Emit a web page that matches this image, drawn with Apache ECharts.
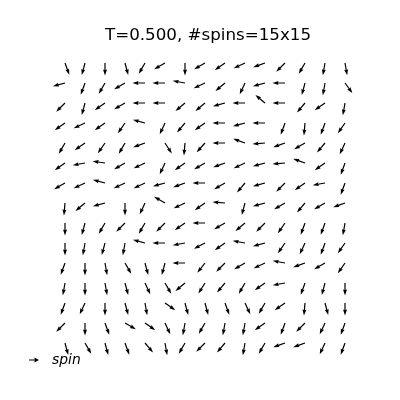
<!DOCTYPE html>
<html>
<head>
<meta charset="utf-8">
<script src="https://cdn.jsdelivr.net/npm/echarts@6/dist/echarts.min.js"></script>
<style>html,body{margin:0;padding:0;background:#fff}#c{width:400px;height:400px}</style>
</head>
<body>
<div id="c"></div>
<script>
const titleText = 'T=0.500, #spins=15x15';
const legendLabel = 'spin';
const columns = [0,1,2,3,4,5,6,7,8,9,10,11,12,13,14];
const rowsTopToBottom = [14,13,12,11,10,9,8,7,6,5,4,3,2,1,0];
// spin angles in degrees (counter-clockwise from +x), rows listed top to bottom
const row1  = [-70,-105,-90,-75,-120,-150,-90,-150,-145,-155,-160,-135,-120,-100,-80];
const row2  = [-165,-110,-120,-150,180,180,170,-155,-140,-115,-165,180,-105,-100,-54];
const row3  = [-135,-105,-145,-150,180,180,-140,-140,-165,180,140,180,-130,-145,-100];
const row4  = [-145,-155,-145,-125,165,-115,-130,-145,180,-165,180,-110,-95,-110,-125];
const row5  = [-120,-145,-125,-120,-160,-57,-95,-132,180,160,-175,-160,-150,-130,-115];
const row6  = [-145,-170,172,-150,-155,-115,-145,-150,-160,-155,-165,-175,160,-145,-110];
const row7  = [-150,-155,165,-155,-155,-165,-160,180,-150,-130,-165,-135,-145,-170,-110];
const row8  = [-95,-140,-165,-90,-115,150,-155,-145,175,-105,-165,-150,-130,-150,-160];
const row9  = [-90,-105,-120,-135,-120,-135,-145,180,-150,-140,-135,-125,-110,-110,-100];
const row10 = [-90,-100,-105,-100,165,180,-170,-152,-145,170,-165,-125,-115,-110,-125];
const row11 = [-110,-90,-80,-60,-75,-105,180,-128,-135,-150,-155,170,-160,-150,-125];
const row12 = [-100,-90,-80,-75,-65,-60,-140,-122,-130,-120,-145,-170,-110,-105,-90];
const row13 = [-110,-115,-90,-75,-80,-35,-75,-75,-70,-65,-120,-145,-95,-75,-90];
const row14 = [-135,-90,-70,-30,-35,-65,-100,-120,-100,-100,-145,-110,-135,-115,-110];
const row15 = [-75,-60,-75,-70,-50,-80,-120,-135,-130,-100,-120,-160,-160,-115,-110];
const angleRows = [row1,row2,row3,row4,row5,row6,row7,row8,row9,row10,row11,row12,row13,row14,row15];

const data = [];
angleRows.forEach((r, ri) => {
  r.forEach((a, ci) => data.push([columns[ci], rowsTopToBottom[ri], a]));
});

const L = 12.5, W = 1.2, HL = 6, HAL = 5.4, HW = 4;
function arrowPoints(x0, y0, deg) {
  const t = deg * Math.PI / 180;
  const ux = Math.cos(t), uy = -Math.sin(t);
  const px = -uy, py = ux;
  const local = [[0,-W/2],[L-HAL,-W/2],[L-HL,-HW/2],[L,0],[L-HL,HW/2],[L-HAL,W/2],[0,W/2]];
  return local.map(([a,b]) => [x0 + a*ux + b*px, y0 + a*uy + b*py]);
}

const chart = echarts.init(document.getElementById('c'), null, {renderer:'canvas'});
chart.setOption({
  animation: false,
  backgroundColor: '#fff',
  title: {
    text: titleText, left: 203, top: 22, textAlign: 'center',
    textStyle: {fontFamily: 'DejaVu Sans', fontSize: 16.7, fontWeight: 'normal', color: '#000'}
  },
  legend: {
    data: [legendLabel], left: 24, top: 348, itemWidth: 12, itemHeight: 5,
    icon: 'path://M0,2.4 L7,2.4 L6.4,0 L12,3 L6.4,6 L7,3.6 L0,3.6 Z',
    textStyle: {fontFamily: 'DejaVu Sans', fontSize: 13.9, fontStyle: 'italic', color: '#000', padding: [0,0,0,7]}
  },
  grid: {left: 65, right: 55, top: 63, bottom: 57},
  xAxis: {type: 'value', min: 0, max: 14, show: false},
  yAxis: {type: 'value', min: 0, max: 14, show: false},
  series: [{
    name: legendLabel,
    type: 'custom',
    itemStyle: {color: '#000'},
    data: data,
    renderItem: function (params, api) {
      const p = api.coord([api.value(0), api.value(1)]);
      return {
        type: 'polygon',
        shape: {points: arrowPoints(p[0], p[1], api.value(2))},
        style: {fill: '#000', stroke: null}
      };
    }
  }]
});
</script>
</body>
</html>
